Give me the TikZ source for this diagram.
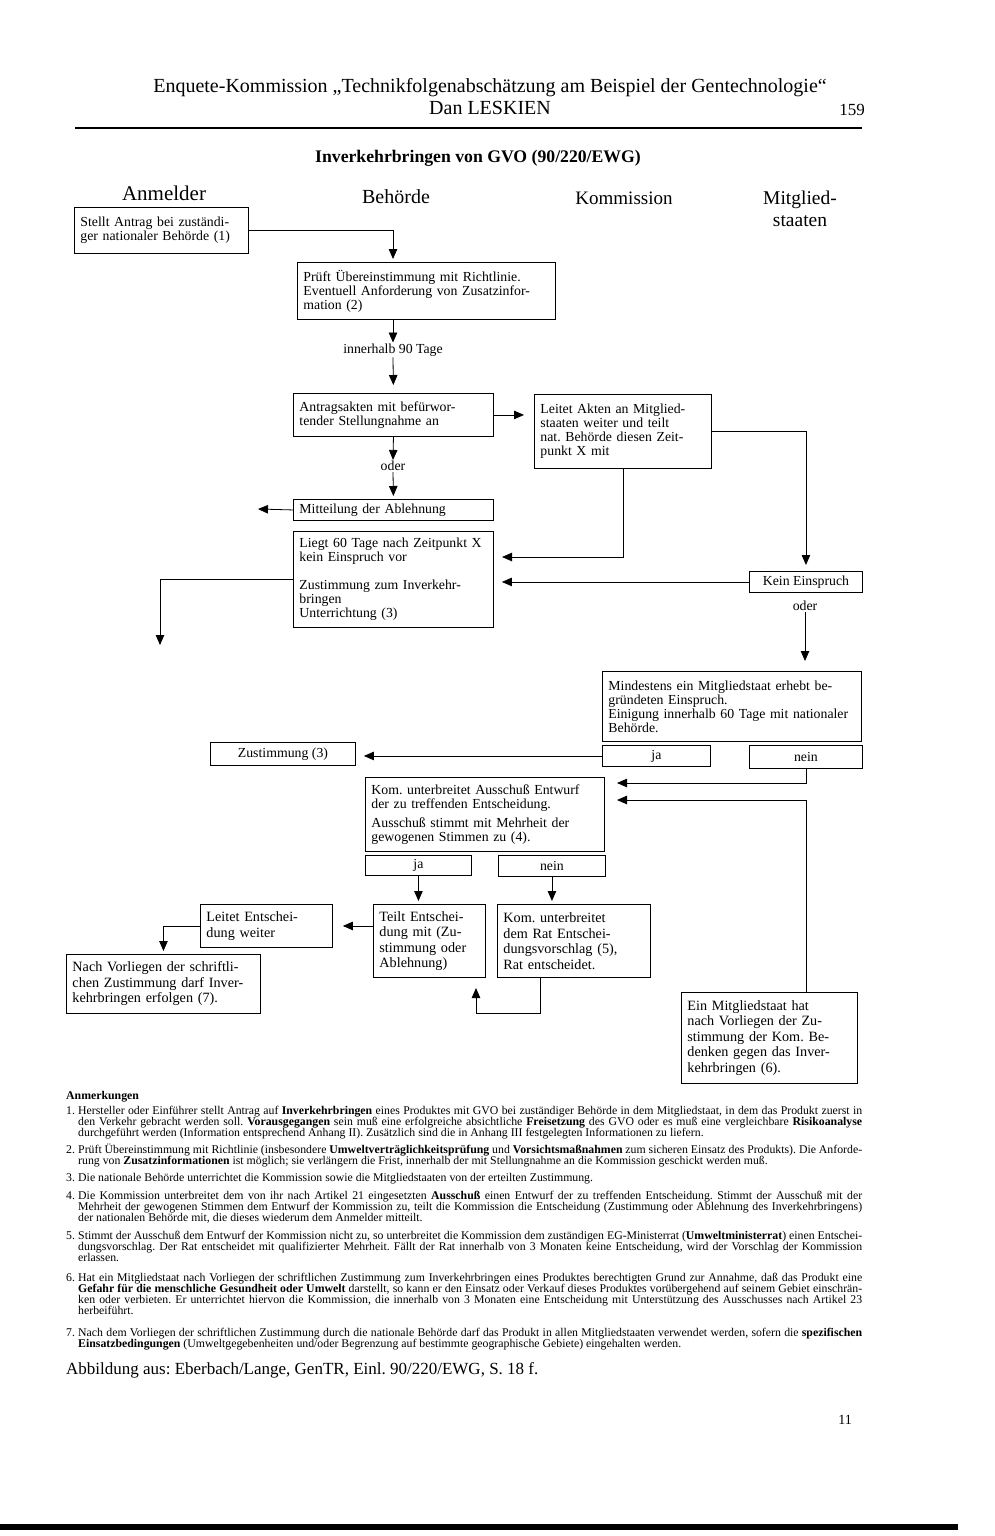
\documentclass[tikz,border=0pt]{standalone}
\usepackage{fontspec}
\setmainfont{Liberation Serif}
\usetikzlibrary{arrows.meta}
\frenchspacing

\begin{document}
\begin{tikzpicture}[x=1pt, y=-1pt,
    box/.style={draw, line width=0.9pt, anchor=north west, align=left,
        inner xsep=6pt, inner ysep=3pt, font=\fontsize{13.8}{14}\selectfont},
    bigbox/.style={box, font=\fontsize{14.2}{15.5}\selectfont},
    tag/.style={draw, line width=0.9pt, anchor=north west, inner sep=0pt,
        font=\fontsize{13.8}{14}\selectfont},
    lbl/.style={inner sep=1pt, font=\fontsize{13.8}{14}\selectfont},
    arr/.style={-{Triangle[length=10pt,width=8.5pt]}, line width=0.8pt},
    fn/.style={anchor=base west, inner sep=0pt, text width=784pt, align=justify,
        font=\fontsize{11.8}{11}\selectfont},
    fnnr/.style={anchor=base west, inner sep=0pt, font=\fontsize{11.8}{11}\selectfont}]
    \useasboundingbox (0,0) rectangle (994,1536);

    % Kopfzeile
    \node[font=\fontsize{20}{22}\selectfont] (kopf) at (490,88)
        {Enquete-Kommission „Technikfolgenabschätzung am Beispiel der Gentechnologie“};
    \node[font=\fontsize{20}{22}\selectfont] (autor) at (490,108) {Dan LESKIEN};
    \node[font=\fontsize{17}{19}\selectfont] (seite) at (852,110) {159};
    \draw[line width=1.2pt] (75,128) -- (862,128);
    \node[font=\bfseries\fontsize{17.7}{19}\selectfont] (titel) at (478,158)
        {Inverkehrbringen von GVO (90/220/EWG)};

    % Spaltenkoepfe
    \node[font=\fontsize{21}{23}\selectfont] (anmelder) at (164,193) {Anmelder};
    \node[font=\fontsize{20}{22}\selectfont] (behoerde) at (396,197) {Behörde};
    \node[font=\fontsize{19}{21}\selectfont] (kommission) at (624,198) {Kommission};
    \node[font=\fontsize{19.5}{22}\selectfont, align=center] (staaten) at (800,209) {Mitglied-\\staaten};

    % Kaesten
    \node[box, text width=162pt, minimum height=46pt] (antrag) at (74,207)
        {Stellt Antrag bei zuständi-\\ger nationaler Behörde (1)};
    \node[box, text width=246pt, minimum height=57pt] (pruef) at (297,262)
        {Prüft Übereinstimmung mit Richtlinie.\\Eventuell Anforderung von Zusatzinfor-\\mation (2)};
    \node[box, text width=188pt, minimum height=43pt] (akten) at (293,393)
        {Antragsakten mit befürwor-\\tender Stellungnahme an};
    \node[box, text width=165pt, minimum height=74pt] (leitet) at (534,394)
        {Leitet Akten an Mitglied-\\staaten weiter und teilt\\nat. Behörde diesen Zeit-\\punkt X mit};
    \node[box, text width=188pt, minimum height=21pt] (ablehn) at (293,499)
        {Mitteilung der Ablehnung};
    \node[box, text width=188pt, minimum height=96pt] (liegt) at (293,531)
        {Liegt 60 Tage nach Zeitpunkt X\\kein Einspruch vor\\[14pt]Zustimmung zum Inverkehr-\\bringen\\Unterrichtung (3)};
    \node[tag, minimum width=113pt, minimum height=21pt] (kein) at (749,571) {Kein Einspruch};
    \node[box, text width=247pt, minimum height=70pt] (mind) at (602,671)
        {Mindestens ein Mitgliedstaat erhebt be-\\gründeten Einspruch.\\Einigung innerhalb 60 Tage mit nationaler\\Behörde.};
    \node[tag, minimum width=108pt, minimum height=21pt] (ja1) at (602,745) {ja};
    \node[tag, minimum width=113pt, minimum height=23pt] (nein1) at (749,745) {nein};
    \node[tag, minimum width=145pt, minimum height=23pt] (zust) at (210,742) {Zustimmung (3)};
    \node[box, text width=227pt, minimum height=74pt] (kom) at (365,777)
        {Kom. unterbreitet Ausschuß Entwurf\\der zu treffenden Entscheidung.\\[5pt]Ausschuß stimmt mit Mehrheit der\\gewogenen Stimmen zu (4).};
    \node[tag, minimum width=106pt, minimum height=20pt] (ja2) at (365,855) {ja};
    \node[tag, minimum width=107pt, minimum height=21pt] (nein2) at (498,855) {nein};
    \node[bigbox, text width=100pt, minimum height=73pt] (teilt) at (373,904)
        {Teilt Entschei-\\dung mit (Zu-\\stimmung oder\\Ablehnung)};
    \node[bigbox, text width=141pt, minimum height=73pt] (komrat) at (497,904)
        {Kom. unterbreitet\\dem Rat Entschei-\\dungsvorschlag (5),\\Rat entscheidet.};
    \node[bigbox, text width=120pt, minimum height=43pt] (leitetent) at (200,904)
        {Leitet Entschei-\\dung weiter};
    \node[bigbox, text width=182pt, minimum height=59pt] (nach) at (66,954)
        {Nach Vorliegen der schriftli-\\chen Zustimmung darf Inver-\\kehrbringen erfolgen (7).};
    \node[bigbox, text width=164pt, minimum height=91pt] (ein) at (681,992)
        {Ein Mitgliedstaat hat\\nach Vorliegen der Zu-\\stimmung der Kom. Be-\\denken gegen das Inver-\\kehrbringen (6).};

    % Zwischentexte
    \node[lbl] (tage) at (393,350) {innerhalb 90 Tage};
    \node[lbl] (oder1) at (393,466) {oder};
    \node[lbl] (oder2) at (805,606) {oder};

    % Hilfspunkte
    \coordinate (bh) at (393,0);
    \coordinate (xin) at (494,557);
    \coordinate (ablout) at (258,509);
    \coordinate (zustout) at (160,645);
    \coordinate (komin1) at (605,783);
    \coordinate (komin2) at (605,800);
    \coordinate (ratdown) at (540,1013);
    \coordinate (ratup) at (476,988);

    % Verbindungen
    \draw[arr, shorten >=3pt] (antrag.east) -| (bh |- pruef.north);
    \draw[arr] (bh |- pruef.south) -- (tage.north);
    \draw[arr, shorten >=8pt] (tage.south) -- (akten.north);
    \draw[arr, shorten >=10pt] (akten.east) -- (akten.east -| leitet.west);
    \draw[arr] (akten.south) -- (oder1.north);
    \draw[arr, shorten >=3pt] (oder1.south) -- (ablehn.north);
    \draw[arr] (ablehn.west) -- (ablout);
    \draw[arr, shorten >=8pt] (leitet.south) |- (xin);
    \draw[arr, shorten >=6pt] (leitet.east) -| (kein.north);
    \draw[arr, shorten >=8pt] (kein.west) -- (kein.west -| liegt.east);
    \draw[arr, shorten >=10pt] (oder2.south) -- (oder2.south |- mind.north);
    \draw[arr] (liegt.west) -| (zustout);
    \draw[arr, shorten >=8pt] (ja1.west) -- (ja1.west -| zust.east);
    \draw[arr, shorten >=12pt] (nein1.south) |- (komin1);
    \draw[arr, shorten >=12pt] (ein.north -| nein1.south) |- (komin2);
    \draw[arr, shorten >=3pt] (ja2.south) -- (ja2.south |- teilt.north);
    \draw[arr, shorten >=3pt] (nein2.south) -- (nein2.south |- komrat.north);
    \draw[arr] (ratdown |- komrat.south) -- (ratdown) -| (ratup);
    \draw[arr, shorten >=10pt] (teilt.west |- leitetent.east) -- (leitetent.east);
    \draw[arr, shorten >=3pt] (leitetent.west) -| (nach.north);

    % Anmerkungen
    \node[fnnr, font=\bfseries\fontsize{11.8}{11}\selectfont] (anm) at (66,1099) {Anmerkungen};
    \node[fnnr] (n1) at (66,1114) {1.};
    \node[fn] (f1) at (78,1114) {Hersteller oder Einführer stellt Antrag auf \textbf{Inverkehrbringen} eines Produktes mit GVO bei zuständiger Behörde in dem Mitgliedstaat, in dem das Produkt zuerst in\linebreak
        den Verkehr gebracht werden soll. \textbf{Vorausgegangen} sein muß eine erfolgreiche absichtliche \textbf{Freisetzung} des GVO oder es muß eine vergleichbare \textbf{Risikoanalyse}\linebreak
        durchgeführt werden (Information entsprechend Anhang II). Zusätzlich sind die in Anhang III festgelegten Informationen zu liefern.};
    \node[fnnr] (n2) at (66,1153) {2.};
    \node[fn] (f2) at (78,1153) {Prüft Übereinstimmung mit Richtlinie (insbesondere \textbf{Umweltverträglichkeitsprüfung} und \textbf{Vorsichtsmaßnahmen} zum sicheren Einsatz des Produkts). Die Anforde-\linebreak
        rung von \textbf{Zusatzinformationen} ist möglich; sie verlängern die Frist, innerhalb der mit Stellungnahme an die Kommission geschickt werden muß.};
    \node[fnnr] (n3) at (66,1181) {3.};
    \node[fn] (f3) at (78,1181) {Die nationale Behörde unterrichtet die Kommission sowie die Mitgliedstaaten von der erteilten Zustimmung.};
    \node[fnnr] (n4) at (66,1199) {4.};
    \node[fn] (f4) at (78,1199) {Die Kommission unterbreitet dem von ihr nach Artikel 21 eingesetzten \textbf{Ausschuß} einen Entwurf der zu treffenden Entscheidung. Stimmt der Ausschuß mit der\linebreak
        Mehrheit der gewogenen Stimmen dem Entwurf der Kommission zu, teilt die Kommission die Entscheidung (Zustimmung oder Ablehnung des Inverkehrbringens)\linebreak
        der nationalen Behörde mit, die dieses wiederum dem Anmelder mitteilt.};
    \node[fnnr] (n5) at (66,1239) {5.};
    \node[fn] (f5) at (78,1239) {Stimmt der Ausschuß dem Entwurf der Kommission nicht zu, so unterbreitet die Kommission dem zuständigen EG-Ministerrat (\textbf{Umweltministerrat}) einen Entschei-\linebreak
        dungsvorschlag. Der Rat entscheidet mit qualifizierter Mehrheit. Fällt der Rat innerhalb von 3 Monaten keine Entscheidung, wird der Vorschlag der Kommission\linebreak
        erlassen.};
    \node[fnnr] (n6) at (66,1281) {6.};
    \node[fn] (f6) at (78,1281) {Hat ein Mitgliedstaat nach Vorliegen der schriftlichen Zustimmung zum Inverkehrbringen eines Produktes berechtigten Grund zur Annahme, daß das Produkt eine\linebreak
        \textbf{Gefahr für die menschliche Gesundheit oder Umwelt} darstellt, so kann er den Einsatz oder Verkauf dieses Produktes vorübergehend auf seinem Gebiet einschrän-\linebreak
        ken oder verbieten. Er unterrichtet hiervon die Kommission, die innerhalb von 3 Monaten eine Entscheidung mit Unterstützung des Ausschusses nach Artikel 23\linebreak
        herbeiführt.};
    \node[fnnr] (n7) at (66,1336) {7.};
    \node[fn] (f7) at (78,1336) {Nach dem Vorliegen der schriftlichen Zustimmung durch die nationale Behörde darf das Produkt in allen Mitgliedstaaten verwendet werden, sofern die \textbf{spezifischen}\linebreak
        \textbf{Einsatzbedingungen} (Umweltgegebenheiten und/oder Begrenzung auf bestimmte geographische Gebiete) eingehalten werden.};

    % Quelle und Seitenzahl
    \node[anchor=base west, inner sep=0pt, font=\fontsize{17}{19}\selectfont] (quelle) at (66,1374)
        {Abbildung aus: Eberbach/Lange, GenTR, Einl. 90/220/EWG, S. 18 f.};
    \node[font=\fontsize{14}{16}\selectfont] (blatt) at (845,1420) {11};
    \fill (0,1524) rectangle (958,1530);
\end{tikzpicture}
\end{document}
